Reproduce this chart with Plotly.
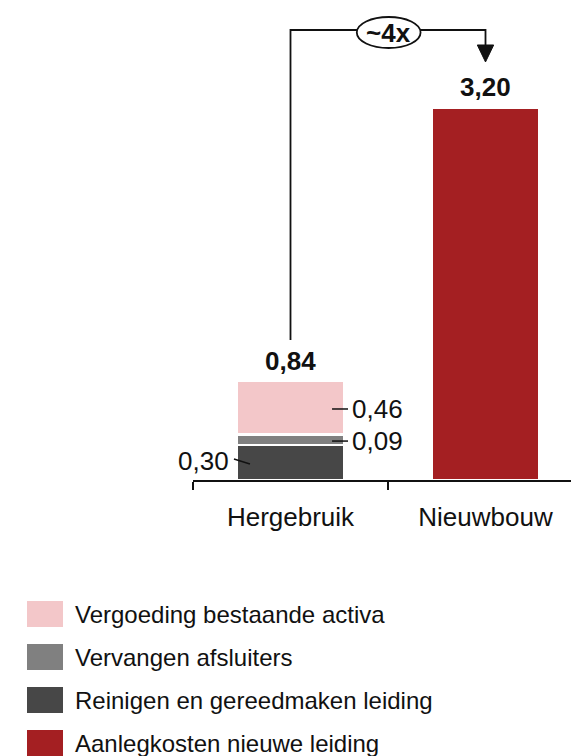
import plotly.graph_objects as go

categories = ["Hergebruik", "Nieuwbouw"]
series_names = ["Reinigen en gereedmaken leiding", "Vervangen afsluiters",
                "Vergoeding bestaande activa", "Aanlegkosten nieuwe leiding"]
reinigen = [0.30, 0]
afsluiters = [0.09, 0]
vergoeding = [0.46, 0]
aanleg = [0, 3.20]
totals = [0.84, 3.20]
ratio_label = "~4x"
colors = ["#474747", "#808080", "#F3C7C9", "#A41F22"]

OFF = 8  # page body margin
W, H = 579 - OFF, 756 - OFF
FONT = "Liberation Sans"

def fmt(v):
    return f"{v:.2f}".replace(".", ",")

fig = go.Figure()
for name, vals, col in zip(series_names, [reinigen, afsluiters, vergoeding, aanleg], colors):
    fig.add_trace(go.Bar(
        x=categories, y=vals, name=name, marker=dict(color=col, line=dict(color="white", width=2.5)),
        width=0.555, showlegend=False, hoverinfo="skip"))

# window px -> paper helpers
def px(x):
    return (x - OFF) / W
def py(y):
    return 1 - (y - OFF) / H

y_base_px, y_top_px = 480, 15
fig.update_layout(
    width=W, height=H, barmode="stack",
    margin=dict(l=0, r=0, t=0, b=0),
    paper_bgcolor="white", plot_bgcolor="white",
    font=dict(family=FONT, size=26, color="#111111"),
    xaxis=dict(domain=[px(193), 1], range=[-0.5, (579 - 193) / 195 - 0.5], showline=True,
               linecolor="#111111", linewidth=1.5, ticks="outside", ticklen=8, tickcolor="#111111",
               tickwidth=1.5, tickson="boundaries", showgrid=False,
               tickfont=dict(size=26, color="#111111"), ticklabelstandoff=13),
    yaxis=dict(domain=[py(y_base_px), py(y_top_px)], range=[0, 4], visible=False, showgrid=False),
)

annotations = []
shapes = []

# totals above bars
for i, t in enumerate(totals):
    annotations.append(dict(x=i, y=t, text=f"<b>{fmt(t)}</b>", showarrow=False,
                            yanchor="bottom", yshift=4, font=dict(size=26)))

# segment labels with leader lines
mid_ver = reinigen[0] + afsluiters[0] + vergoeding[0] * 0.48
mid_afs = reinigen[0] + afsluiters[0] / 2 - 0.01
annotations.append(dict(x=0.305, y=mid_ver, text=fmt(vergoeding[0]), showarrow=False,
                        xanchor="left", font=dict(size=26)))
shapes.append(dict(type="line", x0=0.213, x1=0.295, y0=mid_ver, y1=mid_ver,
                   line=dict(color="#111111", width=1.5)))
annotations.append(dict(x=0.305, y=mid_afs, text=fmt(afsluiters[0]), showarrow=False,
                        xanchor="left", font=dict(size=26)))
shapes.append(dict(type="line", x0=0.213, x1=0.295, y0=mid_afs, y1=mid_afs,
                   line=dict(color="#111111", width=1.5)))
annotations.append(dict(x=-0.305, y=reinigen[0] * 0.55, text=fmt(reinigen[0]), showarrow=False,
                        xanchor="right", font=dict(size=26)))
shapes.append(dict(type="line", x0=-0.29, x1=-0.208, y0=reinigen[0] * 0.6, y1=reinigen[0] * 0.46,
                   line=dict(color="#111111", width=1.5)))

# bracket with arrow
yb = 3.871
shapes.append(dict(type="path", path=f"M 0,1.204 L 0,{yb} L 1,{yb} L 1,3.70",
                   line=dict(color="#111111", width=1.8)))
shapes.append(dict(type="path", path="M 0.958,3.742 L 1.042,3.742 L 1,3.596 Z",
                   fillcolor="#111111", line=dict(color="#111111", width=1)))
shapes.append(dict(type="circle", x0=0.34, x1=0.667, y0=3.716, y1=3.983,
                   fillcolor="white", line=dict(color="#111111", width=1.8)))
annotations.append(dict(x=0.503, y=(3.716 + 3.983) / 2, text=f"<b>{ratio_label}</b>", showarrow=False,
                        font=dict(size=26)))

# custom legend
legend_order = [2, 1, 0, 3]
row_y = [614, 657, 700, 743]
for ry, idx in zip(row_y, legend_order):
    shapes.append(dict(type="rect", xref="paper", yref="paper",
                       x0=px(27), x1=px(63), y0=py(ry + 13), y1=py(ry - 13),
                       fillcolor=colors[idx], line=dict(width=0)))
    annotations.append(dict(xref="paper", yref="paper", x=px(73), y=py(ry), text=series_names[idx],
                            showarrow=False, xanchor="left", yanchor="middle", font=dict(size=24)))

fig.update_layout(annotations=annotations, shapes=shapes)
fig.write_html("out.html")
